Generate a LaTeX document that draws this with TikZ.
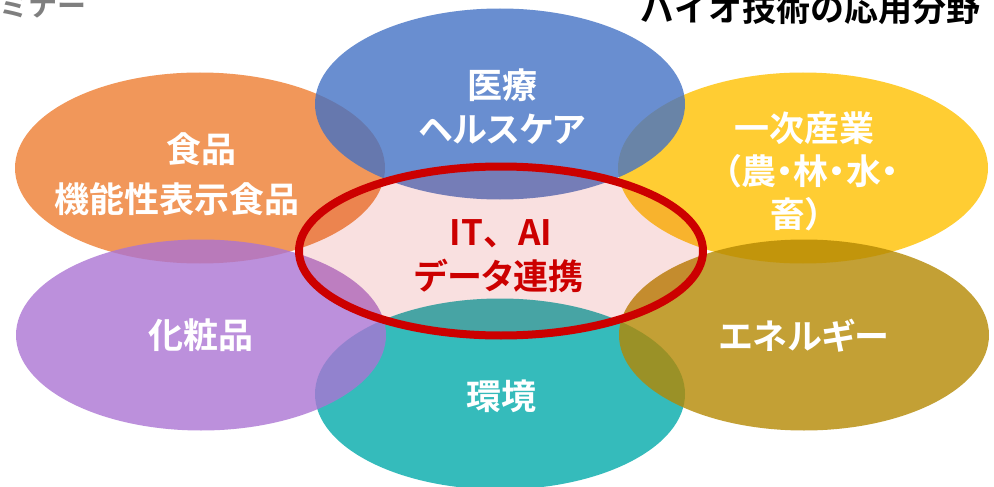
\documentclass[tikz,border=0pt]{standalone}
\usepackage{fontspec}
\setmainfont{Noto Sans CJK JP}[BoldFont={* Bold}]
\usetikzlibrary{shapes.geometric}
\definecolor{cblue}{HTML}{4472C4}
\definecolor{corange}{HTML}{ED7D31}
\definecolor{cyellow}{HTML}{FFC000}
\definecolor{cpurple}{HTML}{AB74D3}
\definecolor{cteal}{HTML}{02AAAA}
\definecolor{colive}{HTML}{B48802}
\definecolor{cred}{HTML}{CC0000}
\definecolor{cgray}{HTML}{7F7F7F}
\tikzset{
  petal/.style={ellipse, draw=none, fill opacity=0.8, inner sep=0pt,
    minimum width=370pt, minimum height=191pt},
  lbl/.style={text=white, inner sep=0pt,
    font=\fontsize{35}{42}\selectfont\bfseries},
  kana/.style={lbl, font=\fontsize{35}{42}\selectfont\bfseries\addfontfeature{RawFeature=+palt}},
  hub/.style={ellipse, draw=cred, line width=8pt, fill=cred, fill opacity=0.12,
    draw opacity=1, inner sep=0pt, minimum width=404pt, minimum height=169pt},
  hublbl/.style={text=cred, inner sep=0pt,
    font=\fontsize{35}{42}\selectfont\bfseries}
}
\begin{document}
\begin{tikzpicture}[x=1pt,y=-1pt]
\useasboundingbox (0,0) rectangle (994,487);
% bottom layer petals
\node[petal, fill=corange] (food) at (200,168) {};
\node[petal, fill=cyellow] (agri) at (803,168) {};
\node[petal, fill=cteal] (env) at (500,394) {};
% upper layer petals
\node[petal, fill=cblue] (med) at (500,104) {};
\node[petal, fill=cpurple] (cosm) at (201,335) {};
\node[petal, fill=colive] (energy) at (804,335) {};
% hub
\node[hub] (hub) at (501,251) {};
% labels
\node[lbl] (tmedA) at (502,85) {医療};
\node[kana] (tmedB) at (502,129) {ヘルスケア};
\node[lbl] (tfoodA) at (201,149) {食品};
\node[lbl] (tfoodB) at (177,199) {機能性表示食品};
\node[lbl] (tagriA) at (804,128) {一次産業};
\node[kana] (tagriB) at (811,171) {（農・林・水・};
\node[kana] (tagriC) at (797,214) {畜）};
\node[lbl] (tcosm) at (201,335) {化粧品};
\node[lbl] (tenv) at (501,396) {環境};
\node[kana] (tenergy) at (804,336) {エネルギー};
\node[hublbl] (thubA) at (501,234) {IT、AI};
\node[hublbl, font=\fontsize{35}{42}\selectfont\bfseries\addfontfeature{RawFeature=+palt}] (thubB) at (499,276) {データ連携};
% headers
\node[anchor=east, inner sep=0pt, text=black, font=\fontsize{34}{40}\selectfont\bfseries] (title) at (981,9) {バイオ技術の応用分野};
\node[anchor=west, inner sep=0pt, text=cgray, font=\fontsize{29}{34}\selectfont\bfseries] (sem) at (-1,6) {ミナー};
\end{tikzpicture}
\end{document}
